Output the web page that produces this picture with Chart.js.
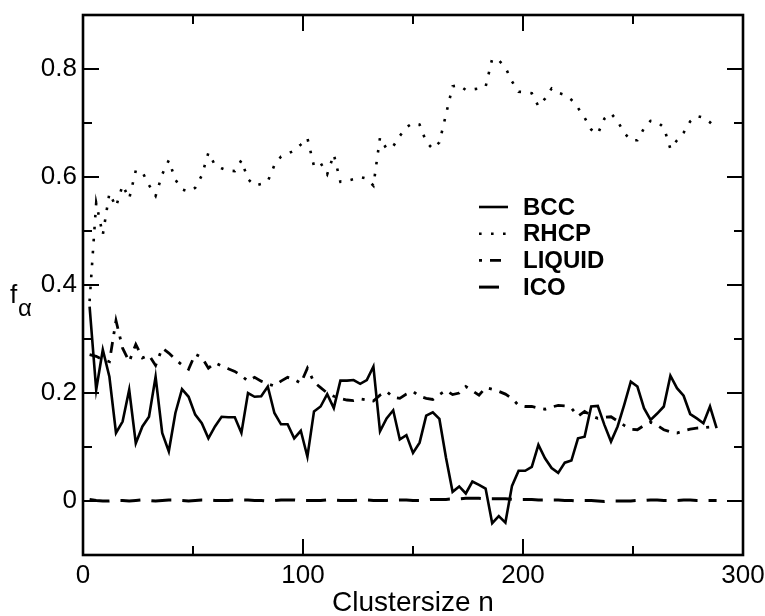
<!DOCTYPE html>
<html>
<head>
<meta charset="utf-8">
<script src="https://cdn.jsdelivr.net/npm/chart.js@4.4.1/dist/chart.umd.min.js"></script>
<style>
  html, body { margin: 0; padding: 0; background: #fff; }
</style>
</head>
<body>
<canvas id="chart" width="765" height="616"></canvas>
<script>
// cluster size n
const clusterSizes = [
  3, 6, 9, 12, 15, 18, 21, 24, 27, 30, 33, 36,
  39, 42, 45, 48, 51, 54, 57, 60, 63, 66, 69, 72,
  75, 78, 81, 84, 87, 90, 93, 96, 99, 102, 105, 108,
  111, 114, 117, 120, 123, 126, 129, 132, 135, 138, 141, 144,
  147, 150, 153, 156, 159, 162, 165, 168, 171, 174, 177, 180,
  183, 186, 189, 192, 195, 198, 201, 204, 207, 210, 213, 216,
  219, 222, 225, 228, 231, 234, 237, 240, 243, 246, 249, 252,
  255, 258, 261, 264, 267, 270, 273, 276, 279, 282, 285, 288
];

const bcc = [
  0.360, 0.206, 0.280, 0.230, 0.126, 0.147, 0.206, 0.107, 0.138, 0.156, 0.230, 0.126,
  0.092, 0.163, 0.207, 0.193, 0.160, 0.144, 0.116, 0.138, 0.156, 0.155, 0.155, 0.126,
  0.200, 0.193, 0.194, 0.212, 0.163, 0.142, 0.142, 0.116, 0.130, 0.082, 0.166, 0.175,
  0.198, 0.172, 0.223, 0.223, 0.224, 0.217, 0.224, 0.249, 0.129, 0.153, 0.168, 0.114,
  0.122, 0.089, 0.108, 0.158, 0.164, 0.152, 0.080, 0.017, 0.027, 0.014, 0.036, 0.030,
  0.023, -0.041, -0.028, -0.040, 0.028, 0.056, 0.056, 0.063, 0.104, 0.079, 0.061, 0.052,
  0.071, 0.075, 0.116, 0.119, 0.175, 0.176, 0.141, 0.110, 0.138, 0.178, 0.221, 0.212,
  0.172, 0.150, 0.162, 0.175, 0.232, 0.209, 0.195, 0.161, 0.153, 0.144, 0.175, 0.135
];

const rhcp = [
  0.370, 0.552, 0.493, 0.570, 0.545, 0.585, 0.560, 0.612, 0.609, 0.585, 0.565, 0.605,
  0.631, 0.595, 0.577, 0.573, 0.580, 0.603, 0.645, 0.622, 0.616, 0.612, 0.611, 0.631,
  0.596, 0.584, 0.587, 0.592, 0.622, 0.638, 0.643, 0.649, 0.660, 0.672, 0.620, 0.626,
  0.605, 0.642, 0.591, 0.593, 0.596, 0.600, 0.597, 0.584, 0.673, 0.652, 0.657, 0.676,
  0.692, 0.700, 0.697, 0.665, 0.652, 0.664, 0.716, 0.768, 0.770, 0.761, 0.762, 0.764,
  0.767, 0.819, 0.816, 0.803, 0.777, 0.758, 0.757, 0.755, 0.731, 0.745, 0.764, 0.756,
  0.752, 0.743, 0.728, 0.710, 0.688, 0.680, 0.708, 0.718, 0.703, 0.682, 0.668, 0.668,
  0.690, 0.704, 0.702, 0.692, 0.652, 0.668, 0.682, 0.703, 0.713, 0.710, 0.701, 0.715
];

const liquid = [
  0.271, 0.268, 0.262, 0.258, 0.334, 0.283, 0.258, 0.290, 0.265, 0.270, 0.251, 0.283,
  0.274, 0.262, 0.252, 0.244, 0.272, 0.266, 0.246, 0.256, 0.250, 0.245, 0.240, 0.232,
  0.222, 0.229, 0.222, 0.217, 0.213, 0.222, 0.229, 0.225, 0.218, 0.246, 0.220, 0.210,
  0.200, 0.194, 0.190, 0.187, 0.186, 0.189, 0.187, 0.185, 0.196, 0.203, 0.192, 0.190,
  0.198, 0.203, 0.194, 0.190, 0.188, 0.197, 0.205, 0.197, 0.200, 0.212, 0.204, 0.196,
  0.210, 0.207, 0.203, 0.198, 0.190, 0.177, 0.175, 0.175, 0.172, 0.170, 0.174, 0.177,
  0.176, 0.172, 0.157, 0.166, 0.158, 0.153, 0.155, 0.156, 0.148, 0.140, 0.133, 0.132,
  0.140, 0.146, 0.140, 0.132, 0.128, 0.126, 0.130, 0.133, 0.135, 0.136, 0.137, 0.135
];

const ico = [
  0.003, 0.001, 0.000, 0.000, 0.001, 0.001, 0.000, 0.001, 0.002, 0.001, 0.000, 0.001,
  0.002, 0.002, 0.001, 0.000, 0.001, 0.002, 0.002, 0.001, 0.001, 0.001, 0.002, 0.002,
  0.002, 0.001, 0.001, 0.000, 0.001, 0.002, 0.002, 0.002, 0.001, 0.001, 0.001, 0.001,
  0.002, 0.002, 0.001, 0.001, 0.001, 0.002, 0.002, 0.001, 0.001, 0.001, 0.002, 0.002,
  0.002, 0.001, 0.001, 0.002, 0.003, 0.003, 0.003, 0.004, 0.004, 0.005, 0.005, 0.005,
  0.004, 0.004, 0.004, 0.004, 0.003, 0.003, 0.003, 0.003, 0.002, 0.002, 0.002, 0.002,
  0.001, 0.001, 0.000, 0.001, 0.001, 0.000, -0.001, 0.000, 0.000, 0.000, 0.000, 0.001,
  0.001, 0.002, 0.002, 0.001, 0.001, 0.001, 0.002, 0.002, 0.001, 0.001, 0.001, 0.001
];

const seriesNames = ['BCC', 'RHCP', 'LIQUID', 'ICO'];

const FONT = '"Liberation Sans", Arial, Helvetica, sans-serif';

function toPoints(values) {
  return values.map((v, i) => ({ x: clusterSizes[i], y: v }));
}

const lineStyles = [
  { borderWidth: 2.6, borderDash: [] },
  { borderWidth: 2.6, borderDash: [2.6, 9.4] },
  { borderWidth: 2.8, borderDash: [11, 8, 3, 8] },
  { borderWidth: 3, borderDash: [20, 11] }
];

const datasets = [bcc, rhcp, liquid, ico].map((vals, i) => ({
  label: seriesNames[i],
  data: toPoints(vals),
  borderColor: '#000',
  borderWidth: lineStyles[i].borderWidth,
  borderDash: lineStyles[i].borderDash,
  borderCapStyle: 'butt',
  borderJoinStyle: 'miter',
  pointRadius: 0,
  tension: 0,
  fill: false
}));

// box around the plot, inward ticks on all four sides, legend and f_alpha label
const frameAndTicks = {
  id: 'frameAndTicks',
  afterDatasetsDraw(chart) {
    const { ctx, chartArea: a, scales: { x, y } } = chart;
    ctx.save();
    ctx.strokeStyle = '#000';
    ctx.lineWidth = 2;
    ctx.beginPath();
    x.ticks.forEach(t => {
      const px = x.getPixelForValue(t.value);
      const len = Math.round(t.value) % 100 === 0 ? 16 : 9;
      ctx.moveTo(px, a.bottom); ctx.lineTo(px, a.bottom - len);
      ctx.moveTo(px, a.top); ctx.lineTo(px, a.top + len);
    });
    y.ticks.forEach(t => {
      const py = y.getPixelForValue(t.value);
      const k = Math.round(t.value * 10);
      const len = k % 2 === 0 ? 16 : 9;
      ctx.moveTo(a.left, py); ctx.lineTo(a.left + len, py);
      ctx.moveTo(a.right, py); ctx.lineTo(a.right - len, py);
    });
    ctx.stroke();

    ctx.lineWidth = 2.6;
    ctx.strokeRect(a.left, a.top, a.right - a.left, a.bottom - a.top);

    // legend
    const lx0 = 479, lx1 = 508, tx = 523;
    let ly = 207;
    chart.data.datasets.forEach(ds => {
      ctx.beginPath();
      ctx.lineWidth = ds.borderWidth;
      ctx.setLineDash(ds.borderDash);
      ctx.lineDashOffset = ds.label === 'LIQUID' ? 19 : 0;
      ctx.moveTo(lx0, ly);
      ctx.lineTo(lx1, ly);
      ctx.stroke();
      ctx.setLineDash([]);
      ctx.lineDashOffset = 0;
      ctx.fillStyle = '#000';
      ctx.font = 'bold 24px ' + FONT;
      ctx.textBaseline = 'middle';
      ctx.textAlign = 'left';
      ctx.fillText(ds.label, tx, ly + 1);
      ly += 26.7;
    });

    // y axis label: f with subscript alpha
    ctx.textBaseline = 'alphabetic';
    ctx.font = '26px ' + FONT;
    ctx.fillText('f', 10, 303);
    ctx.font = '24px ' + FONT;
    ctx.fillText('\u03b1', 18, 316);
    ctx.restore();
  }
};

new Chart(document.getElementById('chart'), {
  type: 'line',
  data: { datasets },
  options: {
    responsive: false,
    animation: false,
    layout: { padding: { top: 15, right: 22, left: 0, bottom: 0 } },
    plugins: {
      legend: { display: false },
      tooltip: { enabled: false }
    },
    scales: {
      x: {
        type: 'linear',
        min: 0,
        max: 300,
        grid: { display: false, drawTicks: false },
        border: { display: false },
        ticks: {
          stepSize: 50,
          autoSkip: false,
          maxRotation: 0,
          padding: 5,
          color: '#000',
          font: { family: FONT, size: 26 },
          callback: v => (Math.round(v) % 100 === 0 ? String(v) : '')
        },
        title: {
          display: true,
          text: 'Clustersize n',
          color: '#000',
          font: { family: FONT, size: 28 },
          padding: { top: 0, bottom: -4 }
        },
        afterFit: s => {
          s.height = 61;
          s.paddingLeft = 0;
          s.paddingRight = 0;
        }
      },
      y: {
        type: 'linear',
        min: -0.1,
        max: 0.9,
        grid: { display: false, drawTicks: false },
        border: { display: false },
        ticks: {
          stepSize: 0.1,
          autoSkip: false,
          padding: 6,
          color: '#000',
          font: { family: FONT, size: 26 },
          callback: v => {
            const k = Math.round(v * 10);
            return k % 2 === 0 && k >= 0 && k <= 8 ? String(k / 10) : '';
          }
        },
        afterFit: s => {
          s.width = 83;
          s.paddingTop = 0;
          s.paddingBottom = 0;
        }
      }
    }
  },
  plugins: [frameAndTicks]
});
</script>
</body>
</html>
